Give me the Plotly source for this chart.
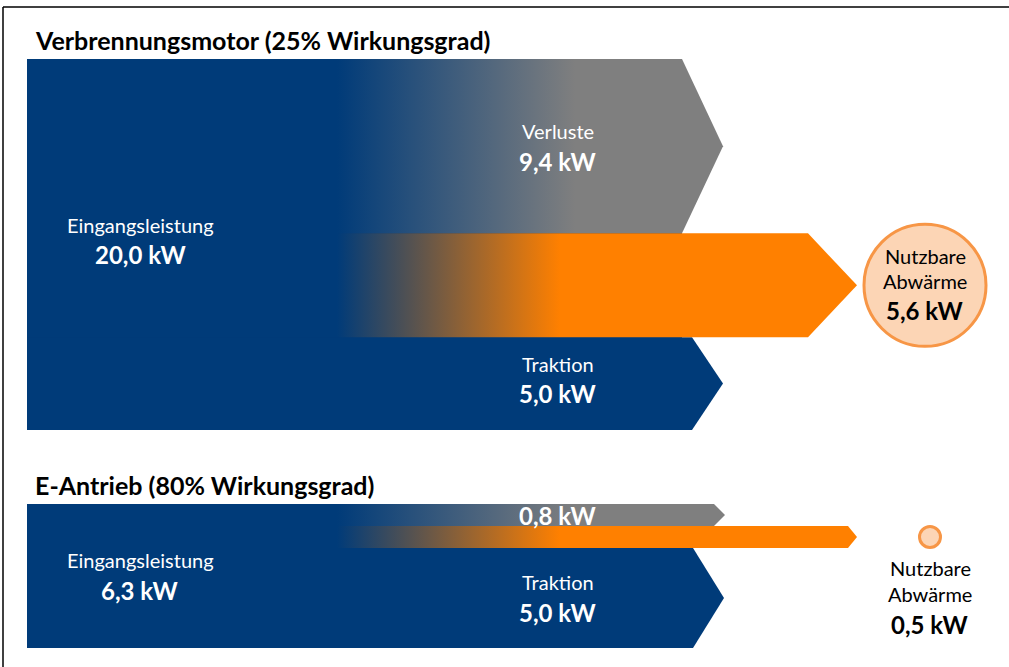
import plotly.graph_objects as go

# values in kW (flows listed bottom -> top)
flow_names = ["Traktion", "Nutzbare Abwärme", "Verluste"]
ice_title = "Verbrennungsmotor (25% Wirkungsgrad)"
ice_input = 20.0
ice_flows = [5.0, 5.6, 9.4]
ev_title = "E-Antrieb (80% Wirkungsgrad)"
ev_input = 6.3
ev_flows = [5.0, 0.5, 0.8]

BLUE = "#003b79"
GRAY = "#7f7f7f"
ORANGE = "#ff8000"
PEACH = "#fcd5b5"
PEACH_LINE = "#f79646"
FONT = "Lato"

# small flows get a minimum drawn width so their label still fits
MIN_BAND = 1.1

# horizontal layout (x axis runs 0..1009)
X_LEFT = 27
X_SPLIT = 337
SHAPE_X = {  # (shoulder, tip) per flow and panel
    "y": [(692, 723), (808, 857), (682, 723)],
    "y2": [(693, 724), (848, 857), (714, 725)],
}
GRAD_STOP = [None, 560, 575]
FLOW_COLOR = [BLUE, ORANGE, GRAY]


def fmt(v):
    return f"{v:.1f}".replace(".", ",") + " kW"


fig = go.Figure()
annotations = []


def add_panel(ref, title, total, flows, circle_x, circle_size, small, dy):
    shown = [max(v, MIN_BAND) for v in flows]
    top = sum(shown)
    # input block (runs under the flows so their seams do not show white)
    x_end = min(SHAPE_X[ref][0][0], SHAPE_X[ref][2][0])
    fig.add_trace(go.Scatter(
        x=[X_LEFT, x_end, x_end, X_LEFT, X_LEFT],
        y=[0, 0, top, top, 0], yaxis=ref, mode="lines", fill="toself",
        fillcolor=BLUE, line=dict(width=0), hoverinfo="skip"))
    bounds = []
    y0 = 0
    for s in shown:
        bounds.append((y0, y0 + s))
        y0 += s
    # draw loss, then traction, then heat on top
    for i in [2, 0, 1]:
        a, b = bounds[i]
        shoulder, tip = SHAPE_X[ref][i]
        x0 = X_LEFT if i == 0 else X_SPLIT
        tr = dict(
            x=[x0, shoulder, tip, shoulder, x0, x0],
            y=[a, a, (a + b) / 2, b, b, a], yaxis=ref, mode="lines",
            fill="toself", line=dict(width=0), hoverinfo="skip")
        if GRAD_STOP[i] is None:
            tr["fillcolor"] = FLOW_COLOR[i]
        else:
            tr["fillgradient"] = dict(
                type="horizontal", colorscale=[[0, BLUE], [1, FLOW_COLOR[i]]],
                start=X_SPLIT, stop=GRAD_STOP[i])
        fig.add_trace(go.Scatter(**tr))

    # heat circle
    hy = sum(bounds[1]) / 2
    fig.add_trace(go.Scatter(
        x=[circle_x], y=[hy], yaxis=ref, mode="markers", hoverinfo="skip",
        marker=dict(size=circle_size, color=PEACH,
                    line=dict(color=PEACH_LINE, width=3))))

    white = dict(family=FONT, color="white", size=20)
    whiteb = dict(family=FONT, color="white", size=24)
    black = dict(family=FONT, color="black", size=20)
    blackb = dict(family=FONT, color="black", size=24)

    def ann(x, y, text, font, shift):
        annotations.append(dict(x=x, y=y, xref="x", yref=ref, text=text,
                                showarrow=False, font=font, yshift=shift))

    ann(140, top / 2, "Eingangsleistung", white, 15 + dy)
    ann(140, top / 2, "<b>" + fmt(total) + "</b>", whiteb, -15 + dy)
    a, b = bounds[0]
    ann(558, (a + b) / 2, "Traktion", white, 15 + dy)
    ann(558, (a + b) / 2, "<b>" + fmt(flows[0]) + "</b>", whiteb, -15 + dy)
    a, b = bounds[2]
    if small:
        ann(558, (a + b) / 2, "<b>" + fmt(flows[2]) + "</b>", whiteb, 0)
        ann(circle_x, hy, "Nutzbare", black, -31)
        ann(circle_x, hy, "Abwärme", black, -57)
        ann(circle_x, hy, "<b>" + fmt(flows[1]) + "</b>", blackb, -87)
    else:
        ann(558, (a + b) / 2, "Verluste", white, 15)
        ann(558, (a + b) / 2, "<b>" + fmt(flows[2]) + "</b>", whiteb, -15)
        ann(circle_x, hy, "Nutzbare", black, 29)
        ann(circle_x, hy, "Abwärme", black, 4)
        ann(circle_x, hy, "<b>" + fmt(flows[1]) + "</b>", blackb, -25)

    annotations.append(dict(
        x=33, y=1, xref="x", yref=ref + " domain", xanchor="left",
        yanchor="bottom", yshift=2, showarrow=False, text="<b>" + title + "</b>",
        font=dict(family=FONT, color="black", size=25)))
    return top


H = 667.0
top1 = add_panel("y", ice_title, ice_input, ice_flows, 925, 122, False, 5)
top2 = add_panel("y2", ev_title, ev_input, ev_flows, 930, 21, True, 1)

hidden = dict(visible=False, showgrid=False, zeroline=False, fixedrange=True)
fig.update_layout(
    width=1009, height=667,
    margin=dict(l=0, r=0, t=0, b=0),
    paper_bgcolor="white", plot_bgcolor="white",
    showlegend=False,
    xaxis=dict(range=[0, 1009], domain=[0, 1], **hidden),
    yaxis=dict(range=[0, top1], domain=[1 - 430 / H, 1 - 59 / H], **hidden),
    yaxis2=dict(range=[0, top2], domain=[1 - 648 / H, 1 - 504 / H],
                anchor="x", **hidden),
    annotations=annotations,
    shapes=[
        dict(type="line", xref="paper", yref="paper", x0=3 / 1009, x1=1,
             y0=1 - 7 / H, y1=1 - 7 / H, line=dict(color="black", width=1.5)),
        dict(type="line", xref="paper", yref="paper", x0=3 / 1009, x1=3 / 1009,
             y0=0, y1=1 - 7 / H, line=dict(color="black", width=1.5)),
    ],
)

fig.write_html("out.html", config=dict(displayModeBar=False),
               post_script="document.body.style.margin='0';"
                           "document.body.style.overflow='hidden';")
